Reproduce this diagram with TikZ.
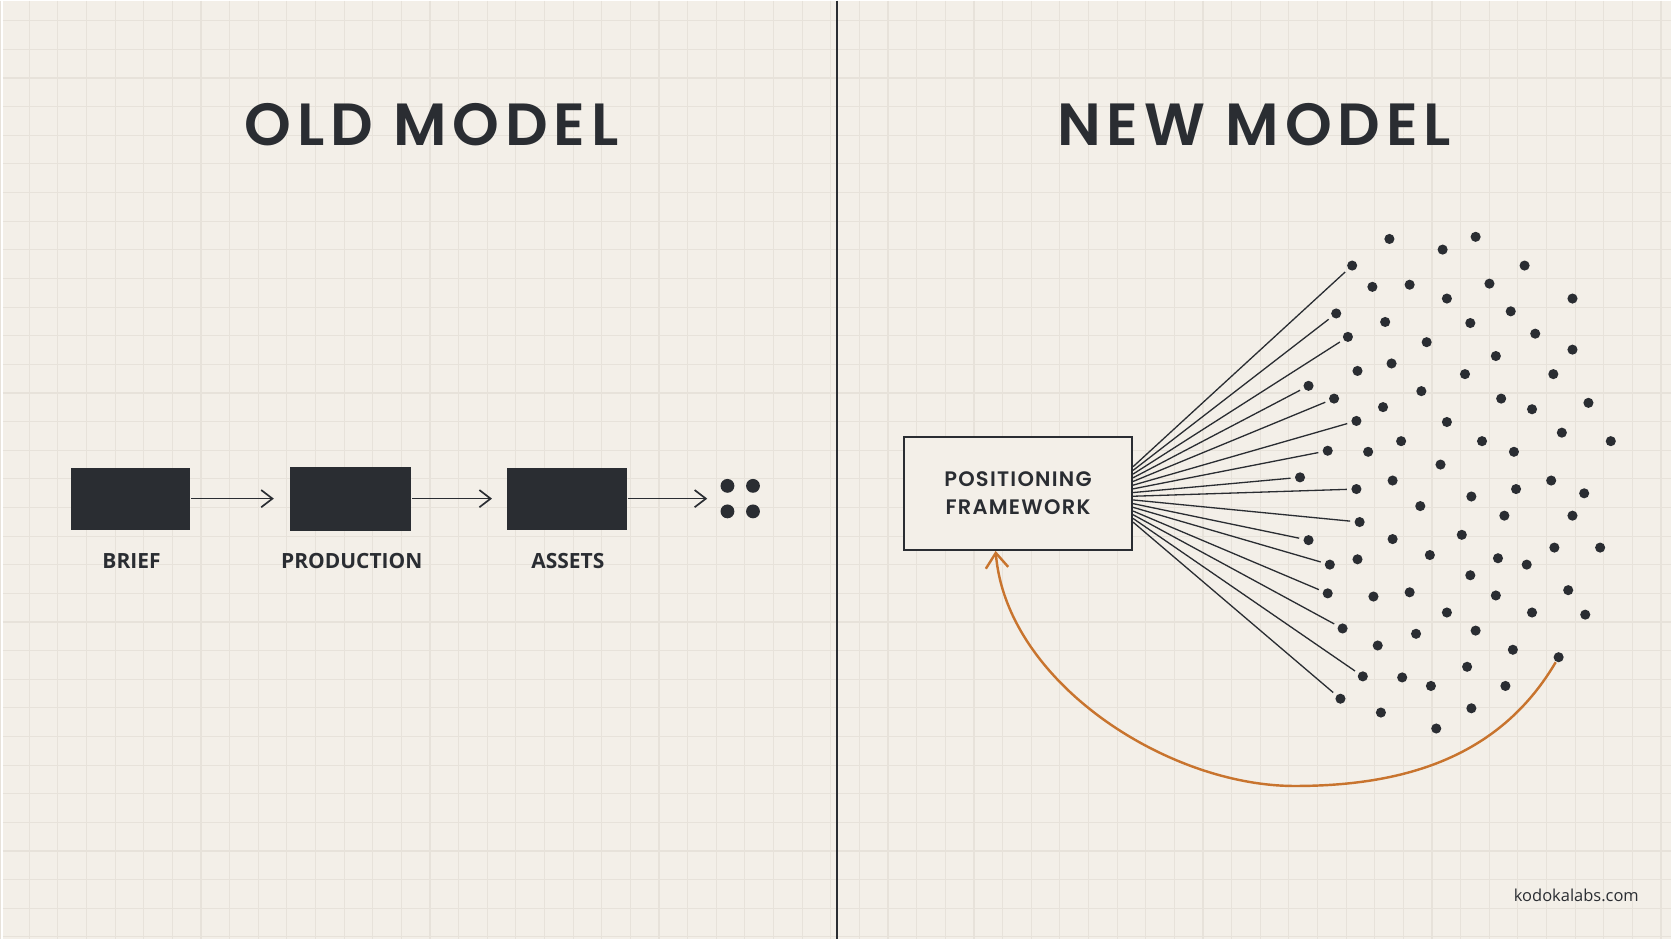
\documentclass[tikz,border=0pt]{standalone}
\usepackage{fontspec}
\usepackage{tikz}
\usetikzlibrary{arrows.meta}
\newfontfamily\headfont{Poppins SemiBold}[LetterSpace=10]
\newfontfamily\boxfont{Poppins SemiBold}[LetterSpace=6]
\newfontfamily\lblfont{Open Sans}
\definecolor{paper}{HTML}{F3EFE8}
\definecolor{gridc}{HTML}{E7E2DA}
\definecolor{ink}{HTML}{2A2D32}
\definecolor{rust}{HTML}{C8742E}

\begin{document}
\begin{tikzpicture}[x=0.01cm,y=-0.01cm,
  blk/.style={fill=ink,minimum width=1.12cm,minimum height=0.58cm,inner sep=0pt},
  lbl/.style={font=\lblfont\bfseries\fontsize{5.6}{6}\selectfont,text=ink,anchor=base,inner sep=0pt},
  ttl/.style={font=\headfont\fontsize{15.9}{18}\selectfont,text=ink,anchor=base,inner sep=0pt},
  dot/.style={circle,fill=ink,minimum size=0.095cm,inner sep=0pt},
  bigdot/.style={circle,fill=ink,minimum size=0.13cm,inner sep=0pt},
  flow/.style={draw=ink,line width=0.45pt,-{Straight Barb[length=3pt,width=4.6pt]}},
  fanline/.style={draw=ink,line width=0.35pt,shorten >=1pt},
  loopback/.style={draw=rust,line width=0.65pt,-{Straight Barb[length=4pt,width=6pt]}},
  gridline/.style={draw=gridc,line width=0.3pt}]

  % paper and grid
  \fill[paper] (0,0) rectangle (1568,882);
  \foreach \gx in {-2,24.9,...,1570}
    \draw[gridline] (\gx,0) -- (\gx,882);
  \foreach \gy in {19,45.9,...,882}
    \draw[gridline] (0,\gy) -- (1568,\gy);
  \useasboundingbox (0,0) rectangle (1568,882);

  \draw[ink,line width=0.55pt] (784,0) -- (784,882);

  % old model
  \node[ttl] (oldttl) at (403,136) {OLD MODEL};

  \node[blk] (brief) at (120,468) {};
  \node[blk,minimum width=1.14cm,minimum height=0.6cm] (prod) at (327,468) {};
  \node[blk,minimum width=1.13cm] (assets) at (530,468) {};

  \node[bigdot] (q1) at (681,456) {};
  \node[bigdot] (q2) at (705,456) {};
  \node[bigdot] (q3) at (681,480) {};
  \node[bigdot] (q4) at (705,480) {};
  \coordinate (tip3) at (662,468);

  \draw[flow] (brief) -- ([xshift=-0.145cm]prod.west);
  \draw[flow] (prod) -- ([xshift=-0.13cm]assets.west);
  \draw[flow] (assets) -- (tip3);

  \node[lbl] (brieflbl) at (121,534) {BRIEF};
  \node[lbl] (prodlbl) at (328,534) {PRODUCTION};
  \node[lbl] (assetslbl) at (531,534) {ASSETS};

  % new model
  \node[ttl] (newttl) at (1176,136) {NEW MODEL};

  \node[draw=ink,line width=0.6pt,fill=paper,text=ink,align=center,
    minimum width=2.14cm,minimum height=1.06cm,inner sep=0pt,
    font=\boxfont\fontsize{5.6}{7.65}\selectfont] (fw) at (954,463)
    {POSITIONING\\FRAMEWORK};

  \foreach \n/\x/\y in {1/1268/249,2/1253/294,3/1264/316,4/1227/362,
      5/1251/374,6/1272/395,7/1245/423,8/1219/448,9/1272/459,
      10/1275/490,11/1227/507,12/1247/530,13/1245/557,14/1259/590,
      15/1278/635,16/1257/656}
    \node[dot] (f\n) at (\x,\y) {};

  \foreach \x/\y [count=\k] in {1303/224,1353/234,1384/222,1430/249,
      1287/269,1322/267,1397/266,1357/280,1475/280,1299/302,1379/303,
      1417/292,1338/321,1440/313,1475/328,1403/334,1273/348,1305/341,
      1374/351,1457/351,1333/367,1297/382,1408/374,1437/384,1490/378,
      1357/396,1314/414,1390/414,1465/406,1511/414,1283/424,1420/424,
      1351/436,1306/451,1455/451,1380/466,1422/459,1486/463,1332/475,
      1411/484,1475/484,1306/506,1371/502,1458/514,1501/514,1273/525,
      1341/521,1405/524,1432/530,1379/540,1288/560,1322/556,1403/559,
      1471/554,1357/575,1437/575,1487/577,1328/595,1384/592,1292/606,
      1419/610,1376/626,1315/636,1342/644,1412/644,1295/669,1380/665,
      1347/684}
    \node[dot] (c\k) at (\x,\y) {};
  \node[dot] (src) at (1462,617) {};

  \foreach \n in {1,...,16}
    \draw[fanline] ([yshift={(0.25-(\n-1)*0.0347)*1cm}]fw.east) -- (f\n);

  % feedback loop back into the framework
  \coordinate (low) at (1214,738);
  \draw[loopback] (src) .. controls (1409,707) and (1324,738) .. (low)
    .. controls (1094,738) and (943,640) .. ([xshift=-0.21cm]fw.south);

  \node[anchor=base east,inner sep=0pt,text=ink,
    font=\lblfont\fontsize{4.4}{5}\selectfont] (site) at (1538,847) {kodokalabs.com};
\end{tikzpicture}
\end{document}
